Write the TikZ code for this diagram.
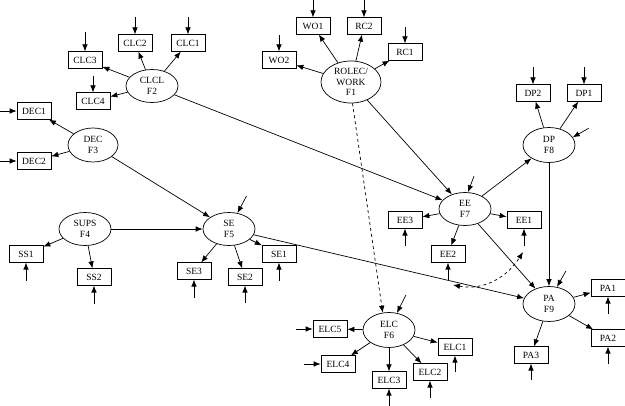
\documentclass[tikz,border=0pt]{standalone}
\usepackage{fontspec}
\setmainfont{Liberation Serif}
\usetikzlibrary{arrows.meta,shapes.geometric}
\begin{document}
\begin{tikzpicture}[x=1pt,y=-1pt,
  font=\fontsize{9.5}{11}\selectfont,
  >={Latex[length=7pt,width=5.5pt]},
  ind/.style={draw,rectangle,minimum width=34pt,minimum height=16.5pt,inner sep=1pt,line width=0.7pt},
  lat/.style={draw,ellipse,minimum width=52pt,minimum height=33pt,inner sep=0pt,align=center,line width=0.7pt},
  arr/.style={->,line width=0.7pt},
  err/.style={<-,line width=0.7pt},
  ]
\useasboundingbox (0,0) rectangle (625,406);

% latent variables
\node[lat,minimum width=60pt,minimum height=42pt,font=\fontsize{9.5}{10.3}\selectfont] (f1) at (351,82) {ROLEC/\\WORK\\F1};
\node[lat] (f2) at (152,86) {CLCL\\F2};
\node[lat,minimum width=50pt,minimum height=34pt] (f3) at (93,145) {DEC\\F3};
\node[lat] (f4) at (85,229) {SUPS\\F4};
\node[lat] (f5) at (229,229) {SE\\F5};
\node[lat,minimum height=35pt] (f6) at (389,330) {ELC\\F6};
\node[lat] (f7) at (465,209) {EE\\F7};
\node[lat,minimum height=35pt] (f8) at (549,145) {DP\\F8};
\node[lat,minimum height=35pt] (f9) at (549,304) {PA\\F9};

% indicators
\node[ind] (clc3) at (85,60) {CLC3};
\node[ind] (clc2) at (135,43) {CLC2};
\node[ind] (clc1) at (188,43) {CLC1};
\node[ind] (clc4) at (93,101) {CLC4};
\node[ind] (dec1) at (34,111) {DEC1};
\node[ind] (dec2) at (34,161) {DEC2};
\node[ind] (wo1) at (313,26) {WO1};
\node[ind] (rc2) at (364,26) {RC2};
\node[ind] (rc1) at (405,52) {RC1};
\node[ind] (wo2) at (279,60) {WO2};
\node[ind] (dp2) at (533,93) {DP2};
\node[ind] (dp1) at (584,93) {DP1};
\node[ind] (ee1) at (524,220) {EE1};
\node[ind] (ee3) at (405,220) {EE3};
\node[ind] (ee2) at (448,254) {EE2};
\node[ind] (ss1) at (26,254) {SS1};
\node[ind] (ss2) at (94,277) {SS2};
\node[ind] (se3) at (194,271) {SE3};
\node[ind] (se2) at (245,277) {SE2};
\node[ind] (se1) at (279,254) {SE1};
\node[ind] (elc5) at (330,329) {ELC5};
\node[ind] (elc4) at (338,364) {ELC4};
\node[ind] (elc3) at (389,380) {ELC3};
\node[ind] (elc2) at (430,372) {ELC2};
\node[ind] (elc1) at (455,347) {ELC1};
\node[ind] (pa1) at (608,288) {PA1};
\node[ind] (pa2) at (608,338) {PA2};
\node[ind] (pa3) at (531,355) {PA3};

% loadings
\foreach \f/\i in {f2/clc3,f2/clc2,f2/clc1,f2/clc4,f3/dec1,f3/dec2,
  f1/wo2,f1/wo1,f1/rc2,f1/rc1,f8/dp2,f8/dp1,f7/ee3,f7/ee1,f7/ee2,
  f4/ss1,f4/ss2,f5/se3,f5/se2,f5/se1,f6/elc5,f6/elc4,f6/elc3,f6/elc2,f6/elc1,
  f9/pa1,f9/pa2,f9/pa3}
  \draw[arr] (\f) -- (\i);

% structural paths
\draw[arr] (f1) -- (f7);
\draw[arr,dashed] (f1.274) -- (f6.110);
\draw[arr] (f2) -- (f7);
\draw[arr] (f3) -- (f5);
\draw[arr] (f4) -- (f5);
\draw[arr] (f5) -- (f9);
\draw[arr] (f7) -- (f8);
\draw[arr] (f8) -- (f9);
\draw[arr] (f7) -- (f9);

% correlated errors
\coordinate (dA) at (453,285);
\coordinate (dB) at (523,252);
\draw[<->,dashed,line width=0.7pt] (dA) .. controls (485,291) and (508,276) .. (dB);

% error terms on indicators
\foreach \i/\l in {clc1/17,clc2/17,clc3/19,clc4/16,wo1/17,rc2/17,wo2/16,rc1/16,dp1/17,dp2/17}
  \draw[err] (\i.north) -- ++(0,-\l);
\foreach \i in {dec1,dec2,elc5,elc4}
  \draw[err] (\i.west) -- ++(-17,0);
\foreach \i/\l in {ee1/17,ee3/17,ee2/17,ss1/18,ss2/18,se3/18,se2/17,se1/18,elc3/17,elc2/17,elc1/16,pa1/17,pa2/17,pa3/16}
  \draw[err] (\i.south) -- ++(0,\l);

% disturbances
\draw[err] (f8.18) -- ++(16,-9);
\draw[err] (f7.80) -- ++(6,-16);
\draw[err] (f5.62) -- ++(9,-17);
\draw[err] (f6.65) -- ++(9,-18);
\draw[err] (f9.65) -- ++(9,-16);
\end{tikzpicture}
\end{document}
